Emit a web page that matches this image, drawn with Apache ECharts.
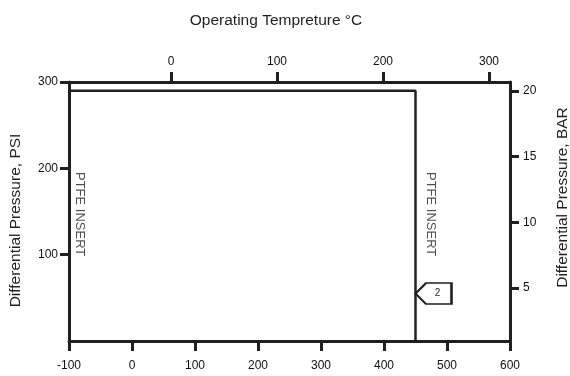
<!DOCTYPE html>
<html>
<head>
<meta charset="utf-8">
<script src="https://cdn.jsdelivr.net/npm/echarts@6/dist/echarts.min.js"></script>
<style>
  html, body { margin: 0; padding: 0; background: #fff; }
  #chart { width: 570px; height: 376px; }
</style>
</head>
<body>
<div id="chart"></div>
<script>
// bottom axis (°F) and top axis (°C)
const fTicks = [-100, 0, 100, 200, 300, 400, 500, 600];
const cTicks = [0, 100, 200, 300];
const psiTicks = [100, 200, 300];
const barTicks = [5, 10, 15, 20];

// limit envelope: [°F, PSI]
const envelope = [[-100, 290], [450, 290], [450, 0]];
// callout marker position [°F, PSI] and its text
const callout = [[450, 55]];
const calloutText = '2';
// vertical notes along the envelope: [°F, PSI, text]
const insertLabels = [[-100, 147, 'PTFE INSERT'], [450, 147, 'PTFE INSERT']];

const ink = '#231f20';
const font = 'Liberation Sans, Arial, sans-serif';

const chart = echarts.init(document.getElementById('chart'));

const axisCommon = {
  type: 'value',
  splitLine: { show: false },
  axisLine: { show: true, onZero: false, lineStyle: { color: ink, width: 3 } },
  axisTick: { show: true, length: 10, lineStyle: { color: ink, width: 3 } },
  axisLabel: { color: '#111', fontSize: 12, fontFamily: font },
  nameTextStyle: { color: ink, fontSize: 15.5, fontFamily: font }
};

chart.setOption({
  animation: false,
  grid: { left: 69, right: 60, top: 82, bottom: 35, containLabel: false, outerBoundsMode: 'none' },
  xAxis: [
    Object.assign({}, axisCommon, {
      position: 'bottom',
      min: -100, max: 600, interval: 100,
      axisTick: Object.assign({}, axisCommon.axisTick, { customValues: fTicks }),
      axisLabel: Object.assign({}, axisCommon.axisLabel, { customValues: fTicks, margin: 19 })
    }),
    Object.assign({}, axisCommon, {
      position: 'top',
      min: -96.2, max: 319.8,
      name: 'Operating Tempreture °C',
      nameLocation: 'middle',
      nameGap: 53,
      nameTextStyle: Object.assign({}, axisCommon.nameTextStyle, { padding: [0, 27, 0, 0] }),
      axisTick: Object.assign({}, axisCommon.axisTick, { customValues: cTicks }),
      axisLabel: Object.assign({}, axisCommon.axisLabel, { customValues: cTicks, margin: 14 })
    })
  ],
  yAxis: [
    Object.assign({}, axisCommon, {
      position: 'left',
      min: 0, max: 300,
      name: 'Differential Pressure, PSI',
      nameLocation: 'middle',
      nameGap: 45,
      nameTextStyle: Object.assign({}, axisCommon.nameTextStyle, { padding: [0, 18, 0, 0] }),
      axisTick: Object.assign({}, axisCommon.axisTick, { length: 9, customValues: psiTicks }),
      axisLabel: Object.assign({}, axisCommon.axisLabel, { customValues: psiTicks, margin: 11 })
    }),
    Object.assign({}, axisCommon, {
      position: 'right',
      min: 0.96, max: 20.69,
      name: 'Differential Pressure, BAR',
      nameLocation: 'middle',
      nameGap: 45,
      nameTextStyle: Object.assign({}, axisCommon.nameTextStyle, { padding: [0, 0, 0, 28] }),
      axisTick: Object.assign({}, axisCommon.axisTick, { length: 9, customValues: barTicks }),
      axisLabel: Object.assign({}, axisCommon.axisLabel, { customValues: barTicks, margin: 13 })
    })
  ],
  series: [
    {
      type: 'line',
      data: envelope,
      symbol: 'none',
      lineStyle: { color: ink, width: 2.5 },
      z: 3
    },
    {
      type: 'scatter',
      data: callout,
      symbol: 'path://M0,10.5 L10.5,0 L36,0 L36,21 L10.5,21 Z',
      symbolSize: [36, 21],
      symbolOffset: [18, 0],
      itemStyle: { color: '#fff', borderColor: ink, borderWidth: 2, opacity: 1 },
      label: {
        show: true,
        formatter: calloutText,
        position: 'inside',
        offset: [4, 0],
        color: ink,
        fontSize: 10,
        fontFamily: font
      },
      z: 4
    },
    {
      type: 'scatter',
      data: insertLabels.map((d, i) => ({
        value: [d[0], d[1]],
        name: d[2],
        label: { offset: [0, i === 0 ? -11 : -15] }
      })),
      symbolSize: 0,
      label: {
        show: true,
        formatter: p => p.name,
        position: 'inside',
        rotate: -90,
        color: ink,
        fontSize: 13,
        fontFamily: font
      },
      z: 5
    }
  ]
});
</script>
</body>
</html>
